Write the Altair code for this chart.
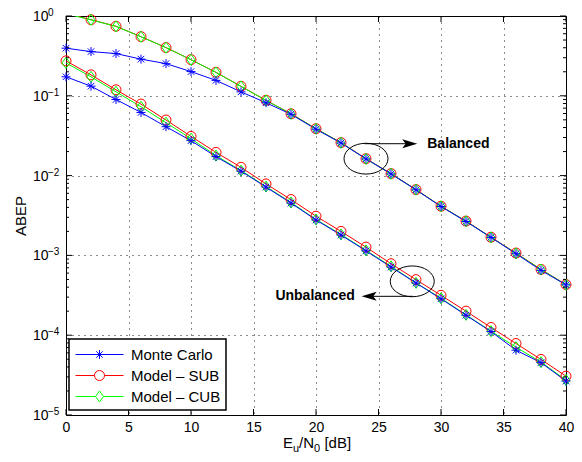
import altair as alt
import pandas as pd

# ---------------- data ----------------
snr_db = [0, 2, 4, 6, 8, 10, 12, 14, 16, 18, 20, 22, 24, 26, 28, 30, 32, 34, 36, 38, 40]

bal_sub = [1.08, 0.90, 0.743, 0.551, 0.402, 0.284, 0.197, 0.1315, 0.0879, 0.0596, 0.0387,
           0.0259, 0.0163, 0.0106, 0.00668, 0.00413, 0.00269, 0.00169, 0.00107, 0.000668, 0.000431]
bal_cub = [1.07, 0.895, 0.740, 0.549, 0.401, 0.283, 0.196, 0.131, 0.0876, 0.0594, 0.0386,
           0.0258, 0.0162, 0.01055, 0.00666, 0.00412, 0.00268, 0.00168, 0.00106, 0.000665, 0.000429]
bal_mc = [0.395, 0.358, 0.338, 0.288, 0.253, 0.201, 0.156, 0.112, 0.0818, 0.0587, 0.0381,
          0.0256, 0.0162, 0.0105, 0.00663, 0.0041, 0.00266, 0.00168, 0.00105, 0.00065, 0.000428]

unb_sub = [0.274, 0.183, 0.1189, 0.0787, 0.0497, 0.031, 0.01955, 0.0127, 0.00787, 0.00501, 0.0031,
           0.002, 0.00127, 0.000787, 0.000497, 0.000316, 0.0002, 0.000125, 7.87e-5, 4.97e-5, 3.07e-5]
unb_cub = [0.2585, 0.1728, 0.1122, 0.0729, 0.046, 0.029, 0.0178, 0.01155, 0.00729, 0.0046, 0.00282,
           0.00183, 0.001155, 0.000729, 0.000453, 0.00029, 0.00018, 0.000112, 7.08e-5, 4.6e-5, 2.74e-5]
unb_mc = [0.173, 0.132, 0.0899, 0.0618, 0.041, 0.0274, 0.0173, 0.01138, 0.00718, 0.00453, 0.00278,
          0.0018, 0.00114, 0.000714, 0.000451, 0.000286, 0.000178, 0.000111, 6.49e-5, 4.53e-5, 2.66e-5]

series_names = ["Monte Carlo", "Model \u2013 SUB", "Model \u2013 CUB"]
series_colors = ["#0000ff", "#ff0000", "#00ff00"]

decades = [1, 0.1, 0.01, 0.001, 0.0001, 0.00001]
decade_exp = ["0", "\u22121", "\u22122", "\u22123", "\u22124", "\u22125"]
minor_mult = [2, 3, 4, 5, 6, 7, 8, 9]
x_ticks = [0, 5, 10, 15, 20, 25, 30, 35, 40]

# annotations (data coordinates)
ell_x = [24.0, 27.7]
ell_y = [0.0163, 0.000473]
arrow_x = [23.9, 27.75]
arrow_x2 = [27.6, 24.1]
arrow_y = [0.0251, 0.000307]
head_x = [27.5, 24.25]
lbl_bal = ("Balanced", 28.9, 0.0251)
lbl_unb = ("Unbalanced", 23.1, 0.000307)

# ---------------- frames ----------------
rows = []
for name, bal, unb in [(series_names[1], bal_sub, unb_sub),
                       (series_names[2], bal_cub, unb_cub),
                       (series_names[0], bal_mc, unb_mc)]:
    for xv, yv in zip(snr_db, bal):
        rows.append({"x": xv, "y": yv, "series": name, "case": "Balanced"})
    for xv, yv in zip(snr_db, unb):
        rows.append({"x": xv, "y": yv, "series": name, "case": "Unbalanced"})
df = pd.DataFrame(rows)

dec_df = pd.DataFrame({"y": decades, "e": decade_exp})
minor_df = pd.DataFrame({"y": [d * m for d in decades[1:] for m in minor_mult]})
xt_df = pd.DataFrame({"x": x_ticks})
ell_df = pd.DataFrame({"x": ell_x, "y": ell_y})
arr_df = pd.DataFrame({"x": arrow_x, "x2": arrow_x2, "y": arrow_y})
head_r = pd.DataFrame({"x": [head_x[0]], "y": [arrow_y[0]]})
head_l = pd.DataFrame({"x": [head_x[1]], "y": [arrow_y[1]]})
txt_bal = pd.DataFrame({"t": [lbl_bal[0]], "x": [lbl_bal[1]], "y": [lbl_bal[2]]})
txt_unb = pd.DataFrame({"t": [lbl_unb[0]], "x": [lbl_unb[1]], "y": [lbl_unb[2]]})

# ---------------- style ----------------
W, H = 500, 399
FONT = "Liberation Sans"

xs = alt.Scale(domain=[0, 40], nice=False)
ys = alt.Scale(type="log", domain=[1e-5, 1], nice=False)

star = "M -0.9 0 L 0.9 0 M 0 -0.9 L 0 0.9 M -0.65 -0.65 L 0.65 0.65 M -0.65 0.65 L 0.65 -0.65"
circ = "M -1 0 A 1 1 0 1 1 1 0 A 1 1 0 1 1 -1 0 Z"
diam = "M 0 -1.1 L 0.8 0 L 0 1.1 L -0.8 0 Z"
plot_paths = [star, circ, diam]

leg_star = ("M -2.4 0 L 2.4 0 M -0.45 0 L 0.45 0 M 0 -0.45 L 0 0.45 "
            "M -0.32 -0.32 L 0.32 0.32 M -0.32 0.32 L 0.32 -0.32")
leg_circ = "M -2.4 0 L -0.5 0 M 0.5 0 L 2.4 0 M -0.5 0 A 0.5 0.5 0 1 1 0.5 0 A 0.5 0.5 0 1 1 -0.5 0 Z"
leg_diam = "M -2.4 0 L -0.4 0 M 0.4 0 L 2.4 0 M 0 -0.55 L 0.4 0 L 0 0.55 L -0.4 0 Z"
leg_paths = [leg_star, leg_circ, leg_diam]

ellipse = "M -1 0 A 1 0.7 0 1 1 1 0 A 1 0.7 0 1 1 -1 0 Z"
head_right = "M 1 0 L -1 -0.6 L -0.55 0 L -1 0.6 Z"
head_left = "M -1 0 L 1 -0.6 L 0.55 0 L 1 0.6 Z"

X = alt.X("x:Q", scale=xs, axis=alt.Axis(values=x_ticks, grid=True, ticks=False, domain=False,
                                         labelFlush=False, labelFontSize=14, labelFont=FONT,
                                         labelColor="black", labelPadding=5, title=None))
Y = alt.Y("y:Q", scale=ys, axis=alt.Axis(values=decades, grid=True, ticks=False, domain=False,
                                         labels=False, title="ABEP", titleFontSize=15,
                                         titleFont=FONT, titleFontWeight="normal",
                                         titleColor="black", titlePadding=38))
Xp = alt.X("x:Q", scale=xs)
Yp = alt.Y("y:Q", scale=ys)

color_plot = alt.Color("series:N", scale=alt.Scale(domain=series_names, range=series_colors), legend=None)

lines = alt.Chart(df).mark_line(strokeWidth=1, clip=True).encode(
    x=X, y=Y, color=color_plot, detail="case:N")

points = alt.Chart(df).transform_filter(alt.datum.y <= 1).mark_point(
    filled=False, size=100, strokeWidth=1, opacity=1).encode(
    x=Xp, y=Yp, color=color_plot,
    shape=alt.Shape("series:N", scale=alt.Scale(domain=series_names, range=plot_paths), legend=None))

leg = alt.Legend(title=None, orient="none", legendX=3, legendY=323, padding=5,
                 strokeColor="black", fillColor="white", labelFont=FONT, labelFontSize=15,
                 labelColor="black", symbolOffset=15, labelOffset=21, rowPadding=2,
                 symbolSize=400, symbolStrokeWidth=1, zindex=2)
legend_layer = alt.Chart(df).transform_filter("false").mark_point(
    filled=False, size=400, strokeWidth=1, opacity=1).encode(
    x=Xp, y=Yp,
    color=alt.Color("series:N", scale=alt.Scale(domain=series_names, range=series_colors), legend=leg),
    shape=alt.Shape("series:N", scale=alt.Scale(domain=series_names, range=leg_paths), legend=leg))

# ticks pointing inward
tk = dict(color="black", strokeWidth=1)
tick_layers = [
    alt.Chart(dec_df).mark_rule(**tk).encode(y=Yp, x=alt.value(0), x2=alt.value(6)),
    alt.Chart(dec_df).mark_rule(**tk).encode(y=Yp, x=alt.value(W - 6), x2=alt.value(W)),
    alt.Chart(minor_df).mark_rule(**tk).encode(y=Yp, x=alt.value(0), x2=alt.value(3)),
    alt.Chart(minor_df).mark_rule(**tk).encode(y=Yp, x=alt.value(W - 3), x2=alt.value(W)),
    alt.Chart(xt_df).mark_rule(**tk).encode(x=Xp, y=alt.value(H), y2=alt.value(H - 6)),
    alt.Chart(xt_df).mark_rule(**tk).encode(x=Xp, y=alt.value(0), y2=alt.value(6)),
]

# y tick labels 10^n
ylab_base = alt.Chart(dec_df).mark_text(align="left", baseline="middle", fontSize=14, font=FONT,
                                        color="black", dy=1).encode(
    y=Yp, x=alt.value(-33), text=alt.value("10"))
ylab_exp = alt.Chart(dec_df).mark_text(align="left", baseline="middle", fontSize=10, font=FONT,
                                       color="black", dy=-3).encode(
    y=Yp, x=alt.value(-18), text="e:N")

# x title  E_u/N_0 [dB]
def piece(t, px, py, size):
    return alt.Chart(pd.DataFrame({"t": [t]})).mark_text(
        align="left", baseline="alphabetic", fontSize=size, font=FONT, color="black").encode(
        x=alt.value(px), y=alt.value(py), text="t:N")

xt_pieces = [
    piece("E", 217, 432, 15),
    piece("u", 227, 436, 11),
    piece("/N", 233.1, 432, 15),
    piece("0", 248.1, 436, 11),
    piece("[dB]", 258.4, 432, 15),
]

# annotations
ells = alt.Chart(ell_df).mark_point(shape=ellipse, size=1936, filled=False, color="black",
                                    strokeWidth=1, opacity=1).encode(x=Xp, y=Yp)
arrows = alt.Chart(arr_df).mark_rule(color="black", strokeWidth=1).encode(x=Xp, x2="x2:Q", y=Yp)
hr = alt.Chart(head_r).mark_point(shape=head_right, size=225, filled=True, color="black",
                                  opacity=1).encode(x=Xp, y=Yp)
hl = alt.Chart(head_l).mark_point(shape=head_left, size=225, filled=True, color="black",
                                  opacity=1).encode(x=Xp, y=Yp)
tb = alt.Chart(txt_bal).mark_text(align="left", baseline="middle", fontSize=14, fontWeight="bold",
                                  font=FONT, color="black").encode(x=Xp, y=Yp, text="t:N")
tu = alt.Chart(txt_unb).mark_text(align="right", baseline="middle", fontSize=14, fontWeight="bold",
                                  font=FONT, color="black").encode(x=Xp, y=Yp, text="t:N")

chart = alt.layer(
    lines, points, *tick_layers, ells, arrows, hr, hl, tb, tu,
    ylab_base, ylab_exp, *xt_pieces, legend_layer
).resolve_scale(
    color="independent", shape="independent"
).properties(
    width=W, height=H, autosize="none",
    padding={"left": 58, "top": 8, "right": 8, "bottom": 39},
).configure_view(
    stroke="black", strokeWidth=1
).configure_axis(
    gridColor="black", gridDash=[1, 5], gridWidth=1, gridOpacity=0.9
).configure_legend(
    strokeWidth=1.5
)

chart.save("out.html", embed_options={"renderer": "svg", "actions": False})
